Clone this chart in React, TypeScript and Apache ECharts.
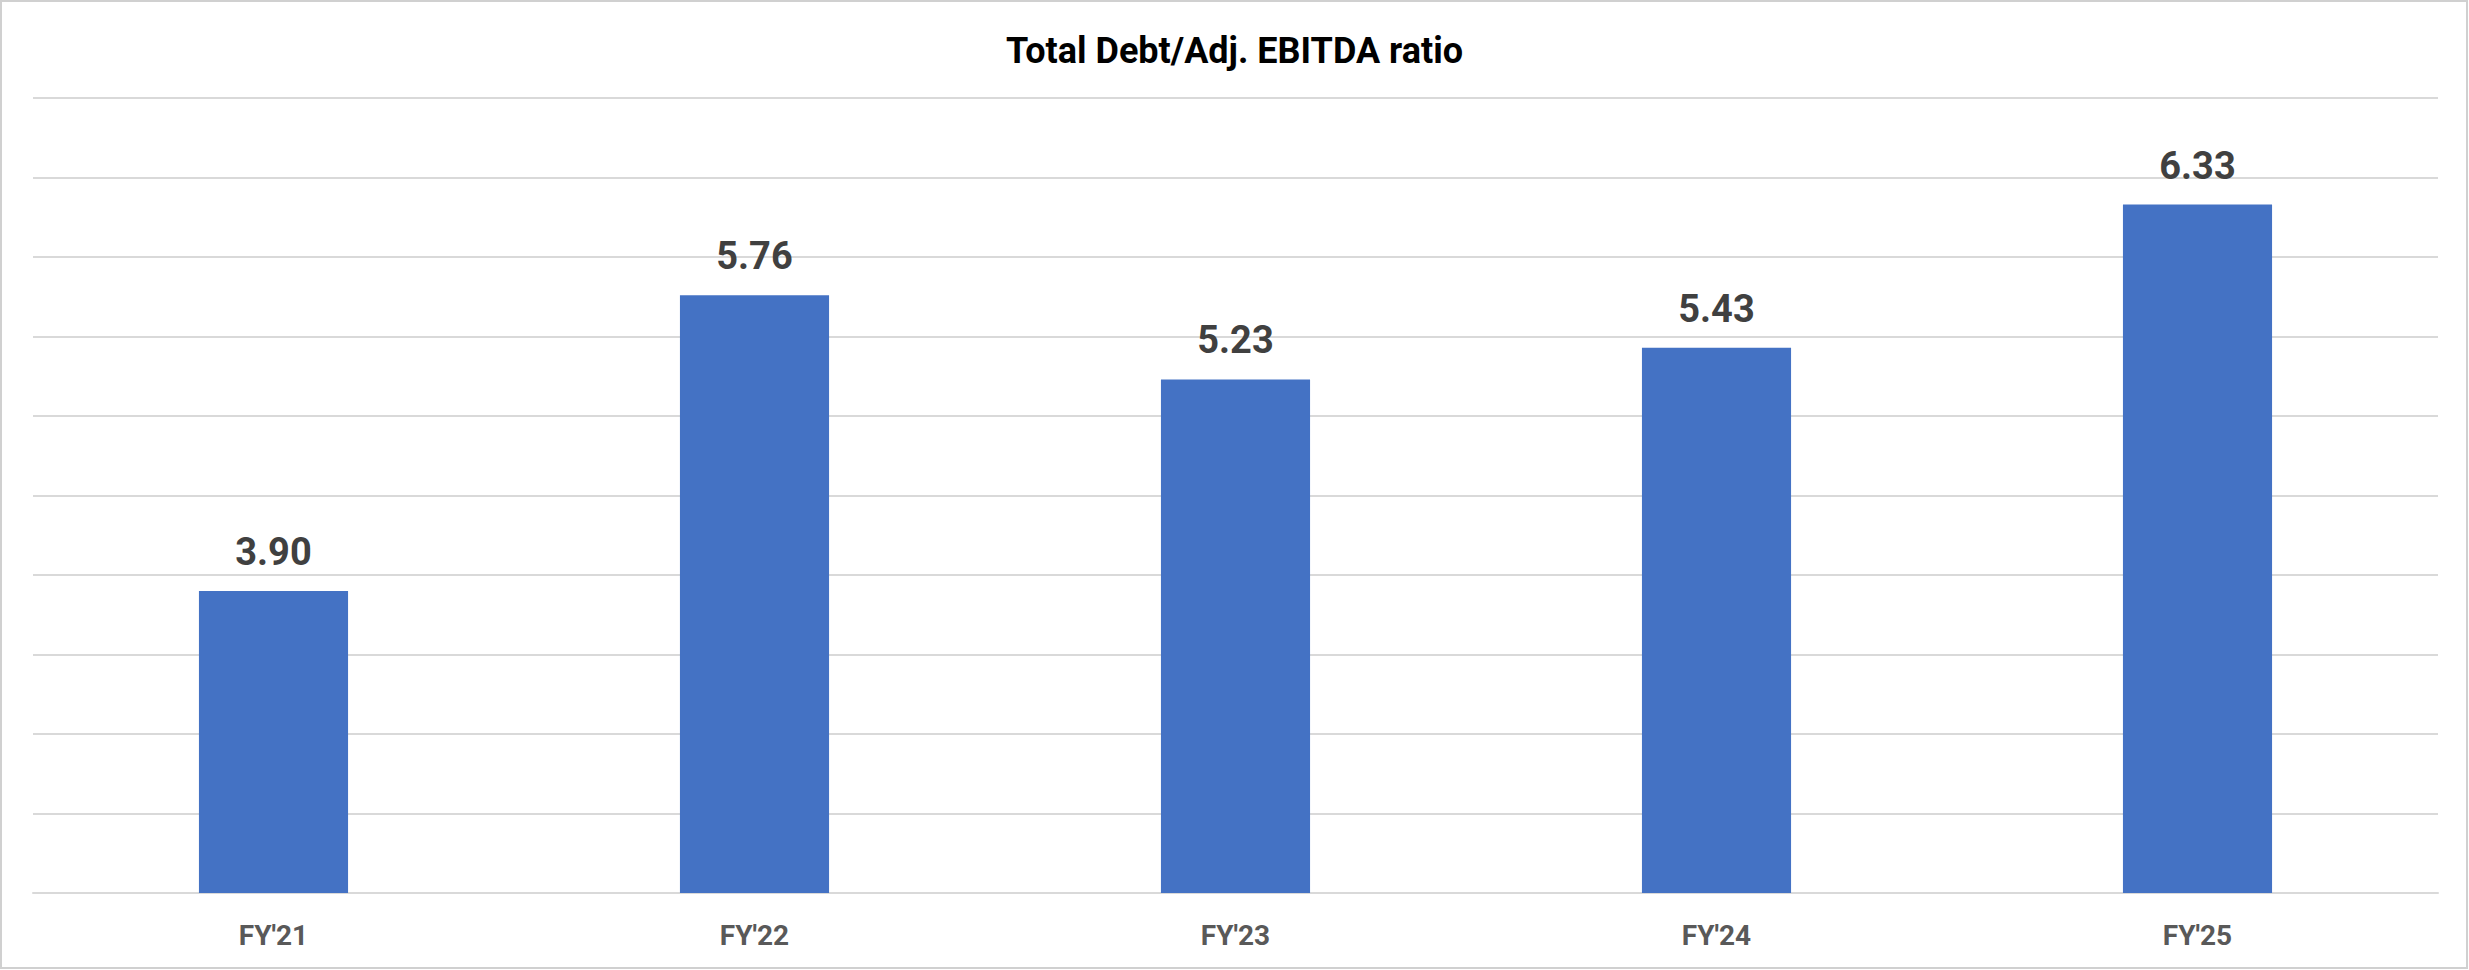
import React, { useEffect, useRef } from "react";
import * as echarts from "echarts";

const categories = ["FY'21", "FY'22", "FY'23", "FY'24", "FY'25"];
const ratioValues = [3.9, 5.76, 5.23, 5.43, 6.33];
const titleText = "Total Debt/Adj. EBITDA ratio";

export default function App() {
  const ref = useRef<HTMLDivElement>(null);
  useEffect(() => {
    if (!ref.current) return;
    const chart = echarts.init(ref.current, null, { renderer: "svg" });
    chart.setOption({
      animation: false,
      backgroundColor: "#ffffff",
      title: {
        text: titleText,
        left: "center",
        top: 28,
        textStyle: {
          fontFamily: "Roboto",
          fontWeight: "bold",
          fontSize: 36,
          color: "#000000",
        },
      },
      graphic: [
        {
          type: "rect",
          shape: { x: 1, y: 1, width: 2466, height: 967 },
          style: { fill: "none", stroke: "#d0d0d0", lineWidth: 2 },
          silent: true,
        },
      ],
      grid: { left: 33, right: 31, top: 98, bottom: 77 },
      xAxis: {
        type: "category",
        data: categories,
        axisTick: { show: false },
        axisLine: { lineStyle: { color: "#d9d9d9", width: 2 } },
        axisLabel: {
          margin: 28,
          fontFamily: "Roboto",
          fontWeight: "bold",
          fontSize: 28,
          color: "#595959",
        },
      },
      yAxis: {
        type: "value",
        min: 2,
        max: 7,
        interval: 0.5,
        axisLabel: { show: false },
        axisLine: { show: false },
        axisTick: { show: false },
        splitLine: { lineStyle: { color: "#d9d9d9", width: 2 } },
      },
      series: [
        {
          type: "bar",
          data: ratioValues,
          barWidth: "31%",
          itemStyle: { color: "#4472c4" },
          label: {
            show: true,
            position: "top",
            distance: 20,
            formatter: (p: any) => Number(p.value).toFixed(2),
            fontFamily: "Roboto",
            fontWeight: "bold",
            fontSize: 38,
            color: "#404040",
          },
        },
      ],
    });
    return () => chart.dispose();
  }, []);
  return (
    <div
      ref={ref}
      style={{ position: "absolute", left: 0, top: 0, width: 2469, height: 970 }}
    />
  );
}
